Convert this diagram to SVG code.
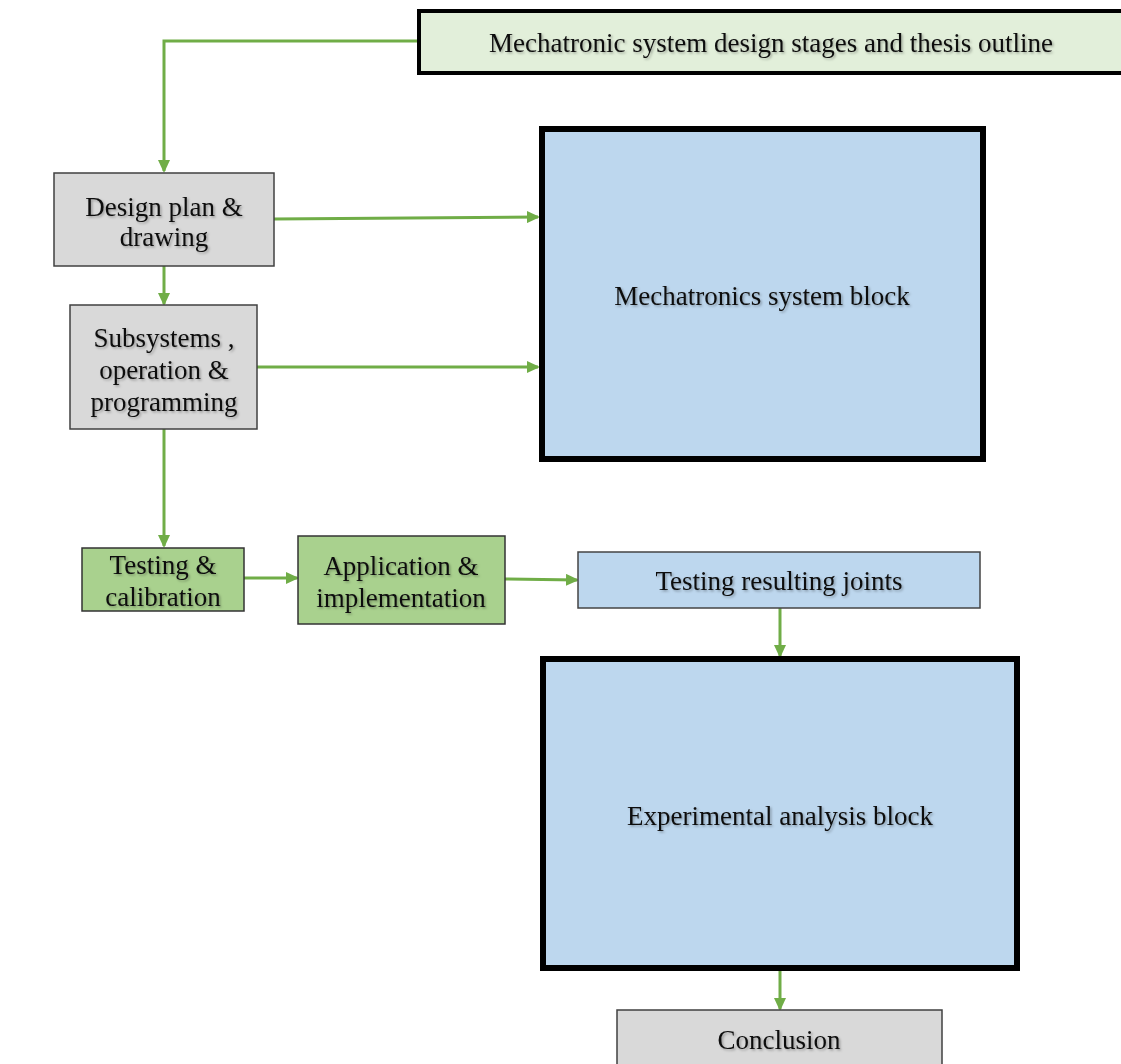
<svg xmlns="http://www.w3.org/2000/svg" width="1121" height="1064" viewBox="0 0 1121 1064">
<defs>
<marker id="arr" markerWidth="13" markerHeight="12" refX="11" refY="6" orient="auto" markerUnits="userSpaceOnUse">
<path d="M0,0 L13,6 L0,12 z" fill="#70AD47"/>
</marker>
<filter id="sh" x="-5%" y="-20%" width="110%" height="140%">
<feDropShadow dx="1.5" dy="1.5" stdDeviation="1" flood-color="#000" flood-opacity="0.3"/>
</filter>
<style>
text{font-family:"Liberation Serif","Times New Roman",serif;font-size:27px;fill:#111;text-anchor:middle;filter:url(#sh)}
.gray{fill:#D9D9D9;stroke:#404040;stroke-width:1.5}
.green{fill:#A9D18E;stroke:#333;stroke-width:1.5}
.blue{fill:#BDD7EE;stroke:#444;stroke-width:1.5}
.big{fill:#BDD7EE;stroke:#000;stroke-width:6}
.top{fill:#E2EFDA;stroke:#000;stroke-width:4}
.c{fill:none;stroke:#70AD47;stroke-width:3}
</style>
</defs>
<rect width="1121" height="1064" fill="#fff"/>
<g id="connectors">
<path class="c" d="M418,41 H164 V171" marker-end="url(#arr)"/>
<path class="c" d="M274,219 L538,217" marker-end="url(#arr)"/>
<path class="c" d="M164,266 V304" marker-end="url(#arr)"/>
<path class="c" d="M257,367 H538" marker-end="url(#arr)"/>
<path class="c" d="M164,429 V546" marker-end="url(#arr)"/>
<path class="c" d="M244,578 H297" marker-end="url(#arr)"/>
<path class="c" d="M505,579 L577,580" marker-end="url(#arr)"/>
<path class="c" d="M780,608 V656" marker-end="url(#arr)"/>
<path class="c" d="M780,970 V1009" marker-end="url(#arr)"/>
</g>
<g id="n-outline">
<rect class="top" x="419" y="11" width="710" height="62"/>
<text x="771" y="52">Mechatronic system design stages and thesis outline</text>
</g>
<g id="n-design">
<rect class="gray" x="54" y="173" width="220" height="93"/>
<text x="164" y="216">Design plan &amp;</text>
<text x="164" y="246">drawing</text>
</g>
<g id="n-subsystems">
<rect class="gray" x="70" y="305" width="187" height="124"/>
<text x="164" y="347">Subsystems ,</text>
<text x="164" y="379">operation &amp;</text>
<text x="164" y="411">programming</text>
</g>
<g id="n-testing">
<rect class="green" x="82" y="548" width="162" height="63"/>
<text x="163" y="574">Testing &amp;</text>
<text x="163" y="606">calibration</text>
</g>
<g id="n-application">
<rect class="green" x="298" y="536" width="207" height="88"/>
<text x="401" y="575">Application &amp;</text>
<text x="401" y="607">implementation</text>
</g>
<g id="n-joints">
<rect class="blue" x="578" y="552" width="402" height="56"/>
<text x="779" y="590">Testing resulting joints</text>
</g>
<g id="n-mechatronics">
<rect class="big" x="542" y="129" width="441" height="330"/>
<text x="762" y="305">Mechatronics system block</text>
</g>
<g id="n-experimental">
<rect class="big" x="543" y="659" width="474" height="309"/>
<text x="780" y="825">Experimental analysis block</text>
</g>
<g id="n-conclusion">
<rect class="gray" x="617" y="1010" width="325" height="60"/>
<text x="779" y="1049">Conclusion</text>
</g>
</svg>
